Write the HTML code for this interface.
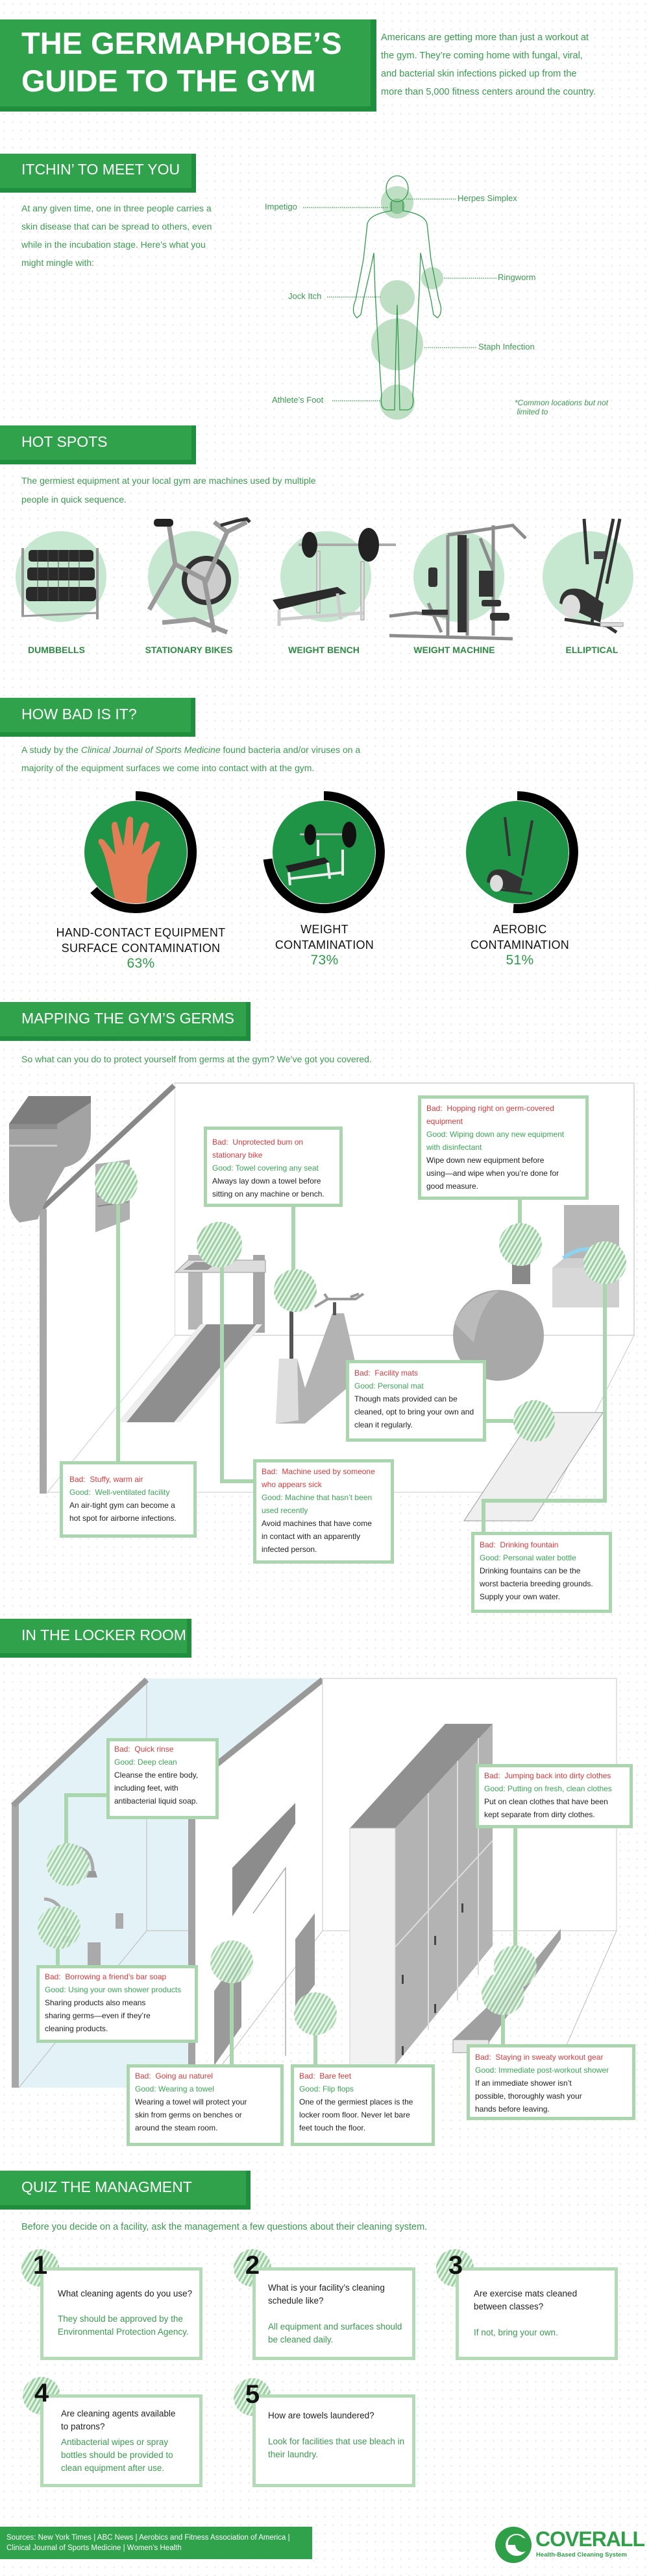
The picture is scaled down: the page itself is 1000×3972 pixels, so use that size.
<!DOCTYPE html>
<html><head><meta charset="utf-8"><style>
*{margin:0;padding:0;box-sizing:border-box}
body{width:1000px;height:3972px;position:relative;overflow:hidden;font-family:"Liberation Sans",sans-serif;background:#fff;background-image:radial-gradient(circle,#ececec 1.1px,transparent 1.6px);background-size:13px 13px}
.a{position:absolute}
.ban{position:absolute;left:0;background:#1f8f3d}
.ban .in{position:absolute;left:0;top:0;background:#30a24c;color:#fff}
.bt{position:absolute;left:33px;color:#fff;font-size:23px;white-space:nowrap}
.g{color:#3a9a50}
.t14{font-size:14px;line-height:28px;color:#3a9a50;white-space:nowrap}
.box{position:absolute;background:#fff;border:5px solid #a9d6ad;font-size:12px;line-height:20px;color:#222;white-space:nowrap;padding-left:8px}
.r{color:#d9393c}.gd{color:#3aa656}
.lab{position:absolute;font-weight:bold;font-size:14px;color:#2d8a42;text-align:center;width:200px}
.card{position:absolute;background:#fff;border:5px solid #b3dbb6}
.qt{position:absolute;font-size:13.5px;line-height:20px;white-space:nowrap}
.num{position:absolute;font-weight:bold;font-size:40px;color:#111;width:40px;text-align:center}
.cl{position:absolute;font-size:18px;line-height:24px;color:#111;text-align:center;width:300px;letter-spacing:.3px}
.pc{color:#2e9a4a;font-size:21px}
</style></head><body>
<svg class="a" style="left:0;top:0" width="1000" height="3972">
<defs>
<pattern id="h" patternUnits="userSpaceOnUse" width="6" height="6" patternTransform="rotate(30)"><rect width="6" height="6" fill="#e6f4e8"/><rect width="3" height="6" fill="#9ccfa2"/></pattern>
<clipPath id="c1"><circle cx="209" cy="1314" r="79"/></clipPath>
<clipPath id="c2"><circle cx="499" cy="1314" r="79"/></clipPath>
<clipPath id="c3"><circle cx="797" cy="1314" r="79"/></clipPath>
</defs>
<g fill="#bfdfc5">
<circle cx="612" cy="312" r="25"/><circle cx="612" cy="459" r="27"/><circle cx="666" cy="429" r="17"/><circle cx="612" cy="531" r="40"/><circle cx="612" cy="620" r="27"/>
</g>
<circle cx="612" cy="318" r="12" fill="#8fc79a"/>
<g fill="none" stroke="#2f9a4a" stroke-width="1.3">
<ellipse cx="612" cy="291" rx="17" ry="20"/>
<path d="M603 310 L603 325 Q570 330 566 345 L560 400 L548 462 Q540 482 550 490 L556 485 L560 462 L572 410 L576 390 L578 450 L582 520 L588 610 Q585 630 596 632 L608 632 L610 540 L612 470 L614 540 L616 632 L628 632 Q639 630 636 610 L642 520 L646 450 L648 390 L652 410 L664 462 L668 485 L674 490 Q684 482 676 462 L664 400 L658 345 Q654 330 621 325 L621 310"/>
</g>
<g stroke="#2f9a4a" stroke-width="1.2" stroke-dasharray="1.5 1.5">
<line x1="626" y1="307" x2="704" y2="307"/><line x1="467" y1="320" x2="598" y2="320"/><line x1="684" y1="429" x2="766" y2="429"/><line x1="504" y1="458" x2="586" y2="458"/><line x1="654" y1="536" x2="735" y2="536"/><line x1="512" y1="618" x2="586" y2="618"/>
</g>
<g fill="#c6e7d0"><circle cx="94" cy="889" r="70"/><circle cx="298" cy="889" r="70"/><circle cx="502" cy="889" r="70"/><circle cx="707" cy="889" r="70"/><circle cx="906" cy="889" r="70"/></g>
<g><rect x="33" y="845" width="4" height="105" fill="#999"/><rect x="148" y="845" width="4" height="110" fill="#999"/><line x1="33" y1="950" x2="150" y2="945" stroke="#999" stroke-width="3"/>
<g fill="#2a2a2a"><rect x="44" y="848" width="100" height="18" rx="5"/><rect x="42" y="875" width="104" height="20" rx="5"/><rect x="40" y="905" width="108" height="22" rx="6"/></g>
<g stroke="#555" stroke-width="1"><line x1="58" y1="848" x2="58" y2="927"/><line x1="74" y1="848" x2="74" y2="927"/><line x1="90" y1="848" x2="90" y2="927"/><line x1="106" y1="848" x2="106" y2="927"/><line x1="122" y1="848" x2="122" y2="927"/></g></g>
<g><circle cx="318" cy="895" r="38" fill="#333"/><circle cx="318" cy="895" r="30" fill="#ccc"/><path d="M260 808 L270 870 L230 940 M270 870 L318 895 L350 820 L380 805 M350 820 L330 805 M250 960 L300 955 L350 975 M315 895 L330 975" stroke="#999" stroke-width="7" fill="none"/><rect x="237" y="800" width="30" height="12" rx="5" fill="#222"/><path d="M340 810 L365 803 L380 800 L385 805" stroke="#333" stroke-width="5" fill="none"/></g>
<g><rect x="460" y="838" width="150" height="4" fill="#aaa"/><ellipse cx="477" cy="840" rx="12" ry="20" fill="#222"/><ellipse cx="568" cy="840" rx="16" ry="26" fill="#222"/><rect x="488" y="850" width="5" height="95" fill="#ddd" stroke="#999"/><rect x="556" y="866" width="5" height="90" fill="#ddd" stroke="#999"/><polygon points="420,925 520,905 534,915 430,940" fill="#2b2b2b"/><path d="M430 940 L430 965 M520 915 L525 955 M430 955 L560 945" stroke="#ccc" stroke-width="5" fill="none"/></g>
<g stroke="#8c8c8c" stroke-width="5" fill="none"><path d="M690 825 L690 980 M760 810 L760 980 M690 825 L790 810 L810 830 M720 830 L720 980 M600 980 L790 985 M600 950 L640 945 L690 950 M660 930 L680 975 M740 830 L760 880"/></g>
<g fill="#333"><rect x="705" y="825" width="14" height="150"/><rect x="660" y="875" width="14" height="30" rx="4"/><rect x="738" y="880" width="22" height="40"/><rect x="742" y="925" width="30" height="10" rx="3"/><rect x="755" y="945" width="30" height="12" rx="4"/><rect x="650" y="940" width="40" height="8"/></g>
<g><path d="M900 800 L905 870 M955 800 L935 900 M870 955 L935 965 L950 975 M912 960 L945 800" stroke="#333" stroke-width="5" fill="none"/><path d="M862 930 Q865 900 900 910 L930 930 L925 960 Z" fill="#333"/><ellipse cx="880" cy="935" rx="14" ry="18" fill="#ddd"/><rect x="925" y="960" width="35" height="6" fill="#ddd" stroke="#999"/><rect x="915" y="850" width="18" height="12" fill="#444"/></g>
<g fill="#1f9447"><circle cx="209" cy="1314" r="79"/><circle cx="499" cy="1314" r="79"/><circle cx="797" cy="1314" r="79"/></g>
<g fill="none" stroke="#000" stroke-width="14">
<path d="M209 1227 A87 87 0 1 1 144.4 1372.2"/>
<path d="M499 1227 A87 87 0 1 1 412.6 1324.6"/>
<path d="M797 1227 A87 87 0 1 1 791 1400.8"/>
</g>
<g clip-path="url(#c1)" fill="#e27d58"><path d="M168 1345 Q160 1310 152 1300 Q150 1290 160 1295 L178 1318 L172 1275 Q172 1265 180 1268 L190 1305 L195 1265 Q198 1255 205 1262 L205 1305 L218 1272 Q224 1263 230 1272 L218 1318 L240 1298 Q250 1295 245 1305 L228 1350 L225 1400 L180 1400 Z"/></g>
<g clip-path="url(#c2)"><rect x="462" y="1285" width="85" height="3" fill="#bbb"/><ellipse cx="478" cy="1287" rx="9" ry="16" fill="#111"/><ellipse cx="538" cy="1287" rx="11" ry="20" fill="#111"/><polygon points="440,1335 500,1322 508,1330 445,1345" fill="#222"/><path d="M445 1345 L447 1365 M505 1330 L508 1355 M445 1355 L530 1345 M490 1295 L490 1320 M528 1310 L528 1350" stroke="#eee" stroke-width="4"/></g>
<g clip-path="url(#c3)"><path d="M778 1260 L785 1320 M820 1265 L805 1350 M760 1370 L820 1378" stroke="#333" stroke-width="4" fill="none"/><path d="M750 1360 Q752 1335 780 1342 L805 1355 L800 1378 Z" fill="#333"/><ellipse cx="765" cy="1362" rx="10" ry="13" fill="#ddd"/></g>
<rect x="269" y="1670" width="708" height="389" fill="#fff" stroke="#cfcfcf" stroke-width="1.5"/>
<polygon points="269,2059 977,2059 855,2301 73,2301" fill="#fff" stroke="#c8c8c8" stroke-width="1"/>
<polygon points="61,1864 269,1670 269,2059 72,2301 61,2303" fill="#fff"/>
<line x1="62" y1="1866" x2="268" y2="1674" stroke="#888" stroke-width="8"/>
<rect x="61" y="1864" width="11" height="439" fill="#a8a8a8"/>
<path d="M14 1733 L44 1690 L140 1690 L140 1745 Q140 1790 100 1800 Q70 1850 58 1880 L30 1885 Q14 1870 14 1850 Z" fill="#a3a3a3"/>
<rect x="14" y="1733" width="74" height="8" fill="#8c8c8c"/><rect x="14" y="1765" width="74" height="3" fill="#ccc"/>
<polygon points="44,1690 140,1690 140,1700 88,1733 14,1733" fill="#7d7d7d"/>
<polygon points="147,1795 200,1788 200,1880 147,1900" fill="#b0b0b0"/>
<g stroke="#888" stroke-width="2"><line x1="150" y1="1815" x2="198" y2="1808"/><line x1="150" y1="1830" x2="198" y2="1823"/><line x1="150" y1="1845" x2="198" y2="1838"/><line x1="150" y1="1860" x2="198" y2="1853"/></g>
<rect x="290" y="1935" width="22" height="115" fill="#b5b5b5"/><rect x="390" y="1935" width="18" height="120" fill="#a5a5a5"/>
<polygon points="270,1962 290,1943 409,1943 409,1962" fill="#dcdcdc" stroke="#999"/>
<polygon points="282,1958 300,1946 335,1946 320,1958" fill="#999"/>
<polygon points="182,2193 309,2042 404,2042 277,2193" fill="#8e8e8e"/>
<polygon points="182,2193 309,2042 318,2042 195,2193" fill="#eee"/>
<polygon points="268,2193 395,2042 404,2042 277,2193" fill="#eee"/>
<polygon points="425,2195 430,2095 458,2095 470,2140 512,2025 530,2025 553,2125 470,2195" fill="#b3b3b3"/>
<polygon points="425,2195 430,2095 458,2095 460,2190" fill="#ddd"/>
<rect x="446" y="1975" width="6" height="120" fill="#555"/>
<polygon points="430,1978 470,1975 470,1985 430,1988" fill="#888"/>
<path d="M485 2015 L505 2003 L548 2003 L560 1995 M505 2003 L500 1995 M540 2000 L553 1995" stroke="#999" stroke-width="4" fill="none"/>
<rect x="513" y="2008" width="5" height="20" fill="#555"/>
<circle cx="768" cy="2059" r="70" fill="#a8a8a8"/><path d="M700 2040 Q720 1995 770 1990 Q740 2010 730 2070 Z" fill="#bbb"/>
<polygon points="715,2345 825,2178 929,2178 820,2345" fill="#efefef" stroke="#999"/>
<rect x="869" y="1858" width="85" height="90" fill="#b7b7b7"/><polygon points="851,1955 869,1940 954,1940 954,2016 851,2016" fill="#cfcfcf"/><rect x="851" y="1955" width="80" height="61" fill="#d8d8d8"/>
<path d="M868 1940 Q900 1915 940 1935" stroke="#8fd2ee" stroke-width="6" fill="none"/>
<rect x="789" y="1930" width="28" height="50" fill="#888"/><rect x="792" y="1935" width="16" height="10" fill="#8fd2ee"/>
<g stroke="#a9d6ad" stroke-width="6" fill="none">
<path d="M182 1858 L182 2255"/><path d="M452 1860 L452 1960"/><path d="M342 1950 L342 2284 L392 2284"/><path d="M801 1850 L801 1890"/><path d="M932 1980 L932 2314 L745 2314 L745 2362"/><path d="M748 2191 L792 2191"/>
</g>
<g fill="url(#h)"><circle cx="179" cy="1824" r="33"/><circle cx="455" cy="1990" r="33"/><circle cx="338" cy="1919" r="35"/><circle cx="802" cy="1919" r="33"/><circle cx="932" cy="1947" r="33"/><circle cx="823" cy="2191" r="32"/></g>
<polygon points="29,2781 226,2588 497,2588 297,2780 297,3219 29,3219" fill="#e2f2f6"/>
<line x1="226" y1="2588" x2="226" y2="2977" stroke="#bbb"/><line x1="226" y1="2977" x2="29" y2="3219" stroke="#bbb"/><line x1="226" y1="2977" x2="297" y2="2977" stroke="#bbb"/>
<rect x="18" y="2781" width="11" height="438" fill="#a8a8a8"/>
<line x1="20" y1="2784" x2="226" y2="2590" stroke="#9a9a9a" stroke-width="9"/>
<polygon points="297,2745 497,2588 497,3000 300,3183" fill="#fff"/>
<line x1="297" y1="2750" x2="497" y2="2590" stroke="#999" stroke-width="9"/>
<rect x="290" y="2745" width="11" height="438" fill="#a3a3a3"/>
<rect x="497" y="2588" width="453" height="389" fill="#fff" stroke="#cfcfcf" stroke-width="1.2"/>
<line x1="497" y1="2977" x2="330" y2="3200" stroke="#bbb"/><line x1="950" y1="2977" x2="860" y2="3183" stroke="#bbb"/>
<polygon points="358,2880 455,2780 455,2812 358,2955" fill="#8c8c8c"/>
<polyline points="390,2950 440,2880 440,3170" fill="none" stroke="#999" stroke-width="1.2"/>
<polygon points="455,2990 485,2950 485,3060 455,3100" fill="#9a9a9a"/>
<polygon points="330,3070 372,3010 372,3125 330,3185" fill="#9a9a9a"/>
<polygon points="539,2819 686,2658 759,2658 609,2819" fill="#909090"/>
<polygon points="609,2819 759,2658 759,3000 609,3184" fill="#b3b3b3"/>
<rect x="539" y="2819" width="70" height="365" fill="#f2f2f2" stroke="#ccc"/>
<g stroke="#ddd" stroke-width="2"><line x1="609" y1="3002" x2="759" y2="2838"/><line x1="660" y1="2765" x2="660" y2="3130"/><line x1="705" y1="2715" x2="705" y2="3085"/><line x1="737" y1="2680" x2="737" y2="3045"/></g>
<g fill="#444"><rect x="619" y="3045" width="3" height="14"/><rect x="669" y="2985" width="3" height="14"/><rect x="711" y="2935" width="3" height="14"/><rect x="619" y="3155" width="3" height="14"/><rect x="669" y="3090" width="3" height="14"/></g>
<polygon points="698,3145 818,3030 864,2974 864,2990 753,3150 753,3165 698,3165" fill="#a0a0a0"/>
<rect x="698" y="3145" width="55" height="20" fill="#e8e8e8" stroke="#999"/>
<path d="M115 2848 Q140 2850 143 2880 L143 2885" stroke="#aaa" stroke-width="5" fill="none"/><polygon points="133,2895 150,2895 147,2885 137,2885" fill="#999"/>
<path d="M68 2928 Q100 2930 103 2980" stroke="#aaa" stroke-width="5" fill="none"/><polygon points="95,2995 112,2995 108,2985 98,2985" fill="#999"/>
<rect x="178" y="2950" width="12" height="24" fill="#aaa"/><rect x="135" y="2995" width="20" height="38" fill="#aaa"/>
<rect x="75" y="3060" width="22" height="35" fill="#999"/>
<g stroke="#a9d6ad" stroke-width="6" fill="none">
<path d="M164 2768 L102 2768 L102 2850"/><path d="M89 3000 L89 3032"/><path d="M357 3050 L357 3185"/><path d="M486 3130 L486 3185"/><path d="M794 2819 L794 3010"/><path d="M775 3100 L775 3154"/>
</g>
<g fill="url(#h)" opacity="0.9"><circle cx="105" cy="2875" r="33"/><circle cx="91" cy="2972" r="33"/><circle cx="357" cy="3025" r="33"/><circle cx="486" cy="3105" r="33"/><circle cx="794" cy="3033" r="33"/><circle cx="775" cy="3074" r="33"/></g>
<g fill="url(#h)"><circle cx="62" cy="3497" r="29"/><circle cx="389" cy="3497" r="29"/><circle cx="701" cy="3497" r="29"/><circle cx="64" cy="3694" r="29"/><circle cx="389" cy="3696" r="29"/></g>
<circle cx="791" cy="3924" r="28" fill="#2f9f48"/><circle cx="796" cy="3924" r="17" fill="#fff"/><path d="M783 3924 A13 13 0 0 1 809 3920 L800 3924 Z" fill="#2f9f48"/><circle cx="805" cy="3924" r="11" fill="#2f9f48"/>
</svg>

<div class="ban" style="top:30px;width:580px;height:142px"><div class="in" style="width:571px;height:134px"></div></div>
<div class="a" style="left:33px;top:38px;color:#fff;font-weight:bold;font-size:47px;line-height:58px;white-space:nowrap">THE GERMAPHOBE’S<br>GUIDE TO THE GYM</div>
<div class="a g" style="left:587px;top:44px;font-size:14.5px;line-height:28px;white-space:nowrap">Americans are getting more than just a workout at<br>the gym. They’re coming home with fungal, viral,<br>and bacterial skin infections picked up from the<br>more than 5,000 fitness centers around the country.</div>

<div class="ban" style="top:237px;width:302px;height:60px"><div class="in" style="width:295px;height:53px"></div></div>
<div class="bt" style="top:248px">ITCHIN’ TO MEET YOU</div>
<div class="a t14" style="left:33px;top:307px">At any given time, one in three people carries a<br>skin disease that can be spread to others, even<br>while in the incubation stage. Here’s what you<br>might mingle with:</div>
<div class="a g" style="left:408px;top:311px;font-size:13px">Impetigo</div>
<div class="a g" style="left:705px;top:298px;font-size:13px">Herpes Simplex</div>
<div class="a g" style="left:767px;top:420px;font-size:13px">Ringworm</div>
<div class="a g" style="left:444px;top:449px;font-size:13px">Jock Itch</div>
<div class="a g" style="left:737px;top:527px;font-size:13px">Staph Infection</div>
<div class="a g" style="left:419px;top:609px;font-size:13px">Athlete’s Foot</div>
<div class="a g" style="left:793px;top:614px;font-size:12px;line-height:14px;font-style:italic">*Common locations but not<br>&nbsp;limited to</div>

<div class="ban" style="top:656px;width:302px;height:60px"><div class="in" style="width:295px;height:53px"></div></div>
<div class="bt" style="top:668px">HOT SPOTS</div>
<div class="a t14" style="left:33px;top:727px;line-height:29px">The germiest equipment at your local gym are machines used by multiple<br>people in quick sequence.</div>
<div class="lab" style="left:-13px;top:994px">DUMBBELLS</div>
<div class="lab" style="left:191px;top:994px">STATIONARY BIKES</div>
<div class="lab" style="left:399px;top:994px">WEIGHT BENCH</div>
<div class="lab" style="left:600px;top:994px">WEIGHT MACHINE</div>
<div class="lab" style="left:812px;top:994px">ELLIPTICAL</div>

<div class="ban" style="top:1076px;width:301px;height:60px"><div class="in" style="width:294px;height:53px"></div></div>
<div class="bt" style="top:1088px">HOW BAD IS IT?</div>
<div class="a t14" style="left:33px;top:1142px">A study by the <i>Clinical Journal of Sports Medicine</i> found bacteria and/or viruses on a<br>majority of the equipment surfaces we come into contact with at the gym.</div>
<div class="cl" style="left:67px;top:1426px">HAND-CONTACT EQUIPMENT<br>SURFACE CONTAMINATION<br><span class="pc">63%</span></div>
<div class="cl" style="left:350px;top:1421px">WEIGHT<br>CONTAMINATION<br><span class="pc">73%</span></div>
<div class="cl" style="left:651px;top:1421px">AEROBIC<br>CONTAMINATION<br><span class="pc">51%</span></div>

<div class="ban" style="top:1545px;width:386px;height:60px"><div class="in" style="width:379px;height:53px"></div></div>
<div class="bt" style="top:1557px">MAPPING THE GYM’S GERMS</div>
<div class="a t14" style="left:33px;top:1619px">So what can you do to protect yourself from germs at the gym? We’ve got you covered.</div>

<div class="box" style="left:314px;top:1737px;width:214px;height:124px;padding-top:9px"><span class="r">Bad:&nbsp; Unprotected bum on<br>stationary bike</span><br><span class="gd">Good: Towel covering any seat</span><br>Always lay down a towel before<br>sitting on any machine or bench.</div>
<div class="box" style="left:644px;top:1689px;width:263px;height:161px;padding-top:5px"><span class="r">Bad:&nbsp; Hopping right on germ-covered<br>equipment</span><br><span class="gd">Good: Wiping down any new equipment<br>with disinfectant</span><br>Wipe down new equipment before<br>using—and wipe when you’re done for<br>good measure.</div>
<div class="box" style="left:533px;top:2097px;width:216px;height:126px;padding-top:5px"><span class="r">Bad:&nbsp; Facility mats</span><br><span class="gd">Good: Personal mat</span><br>Though mats provided can be<br>cleaned, opt to bring your own and<br>clean it regularly.</div>
<div class="box" style="left:92px;top:2253px;width:211px;height:118px;padding-top:13px;padding-left:10px"><span class="r">Bad:&nbsp; Stuffy, warm air</span><br><span class="gd">Good:&nbsp; Well-ventilated facility</span><br>An air-tight gym can become a<br>hot spot for airborne infections.</div>
<div class="box" style="left:390px;top:2250px;width:217px;height:161px;padding-top:4px"><span class="r">Bad:&nbsp; Machine used by someone<br>who appears sick</span><br><span class="gd">Good: Machine that hasn’t been<br>used recently</span><br>Avoid machines that have come<br>in contact with an apparently<br>infected person.</div>
<div class="box" style="left:726px;top:2362px;width:217px;height:125px;padding-top:5px"><span class="r">Bad:&nbsp; Drinking fountain</span><br><span class="gd">Good: Personal water bottle</span><br>Drinking fountains can be the<br>worst bacteria breeding grounds.<br>Supply your own water.</div>

<div class="ban" style="top:2496px;width:295px;height:60px"><div class="in" style="width:288px;height:53px"></div></div>
<div class="bt" style="top:2508px">IN THE LOCKER ROOM</div>

<div class="box" style="left:164px;top:2680px;width:173px;height:125px;padding-top:2px;padding-left:7px"><span class="r">Bad:&nbsp; Quick rinse</span><br><span class="gd">Good: Deep clean</span><br>Cleanse the entire body,<br>including feet, with<br>antibacterial liquid soap.</div>
<div class="box" style="left:56px;top:3030px;width:249px;height:120px;padding-top:3px"><span class="r">Bad:&nbsp; Borrowing a friend’s bar soap</span><br><span class="gd">Good: Using your own shower products</span><br>Sharing products also means<br>sharing germs—even if they’re<br>cleaning products.</div>
<div class="box" style="left:195px;top:3183px;width:242px;height:126px;padding-top:3px"><span class="r">Bad:&nbsp; Going au naturel</span><br><span class="gd">Good: Wearing a towel</span><br>Wearing a towel will protect your<br>skin from germs on benches or<br>around the steam room.</div>
<div class="box" style="left:448px;top:3183px;width:222px;height:126px;padding-top:3px"><span class="r">Bad:&nbsp; Bare feet</span><br><span class="gd">Good: Flip flops</span><br>One of the germiest places is the<br>locker room floor. Never let bare<br>feet touch the floor.</div>
<div class="box" style="left:733px;top:2720px;width:242px;height:99px;padding-top:3px"><span class="r">Bad:&nbsp; Jumping back into dirty clothes</span><br><span class="gd">Good: Putting on fresh, clean clothes</span><br>Put on clean clothes that have been<br>kept separate from dirty clothes.</div>
<div class="box" style="left:719px;top:3152px;width:260px;height:117px;padding-top:5px"><span class="r">Bad:&nbsp; Staying in sweaty workout gear</span><br><span class="gd">Good: Immediate post-workout shower</span><br>If an immediate shower isn’t<br>possible, thoroughly wash your<br>hands before leaving.</div>

<div class="ban" style="top:3347px;width:386px;height:60px"><div class="in" style="width:379px;height:53px"></div></div>
<div class="bt" style="top:3359px">QUIZ THE MANAGMENT</div>
<div class="a t14" style="left:33px;top:3420px;font-size:14.5px">Before you decide on a facility, ask the management a few questions about their cleaning system.</div>

<div class="card" style="left:62px;top:3496px;width:250px;height:143px"></div>
<div class="card" style="left:389px;top:3496px;width:251px;height:143px"></div>
<div class="card" style="left:702px;top:3496px;width:250px;height:143px"></div>
<div class="card" style="left:62px;top:3692px;width:250px;height:143px"></div>
<div class="card" style="left:389px;top:3692px;width:251px;height:143px"></div>
<div class="num" style="left:42px;top:3471px">1</div>
<div class="num" style="left:369px;top:3471px">2</div>
<div class="num" style="left:682px;top:3471px">3</div>
<div class="num" style="left:44px;top:3668px">4</div>
<div class="num" style="left:369px;top:3670px">5</div>
<div class="qt" style="left:89px;top:3527px;color:#222">What cleaning agents do you use?</div>
<div class="qt g" style="left:89px;top:3566px">They should be approved by the<br>Environmental Protection Agency.</div>
<div class="qt" style="left:413px;top:3518px;color:#222">What is your facility’s cleaning<br>schedule like?</div>
<div class="qt g" style="left:413px;top:3578px">All equipment and surfaces should<br>be cleaned daily.</div>
<div class="qt" style="left:730px;top:3527px;color:#222">Are exercise mats cleaned<br>between classes?</div>
<div class="qt g" style="left:730px;top:3587px">If not, bring your own.</div>
<div class="qt" style="left:94px;top:3712px;color:#222">Are cleaning agents available<br>to patrons?</div>
<div class="qt g" style="left:94px;top:3756px">Antibacterial wipes or spray<br>bottles should be provided to<br>clean equipment after use.</div>
<div class="qt" style="left:413px;top:3715px;color:#222">How are towels laundered?</div>
<div class="qt g" style="left:413px;top:3755px">Look for facilities that use bleach in<br>their laundry.</div>

<div class="a" style="left:0;top:3896px;width:481px;height:50px;background:#30a24c;color:#fff;font-size:11.5px;line-height:16px;padding:9px 0 0 10px;white-space:nowrap">Sources: New York Times | ABC News | Aerobics and Fitness Association of America |<br>Clinical Journal of Sports Medicine | Women’s Health</div>
<div class="a" style="left:825px;top:3898px;color:#2f9f48;font-weight:bold;font-size:32px;line-height:34px;letter-spacing:-1px">COVERALL</div>
<div class="a" style="left:826px;top:3934px;color:#2f9f48;font-weight:bold;font-size:9.5px;white-space:nowrap">Health-Based Cleaning System</div>
</body></html>
